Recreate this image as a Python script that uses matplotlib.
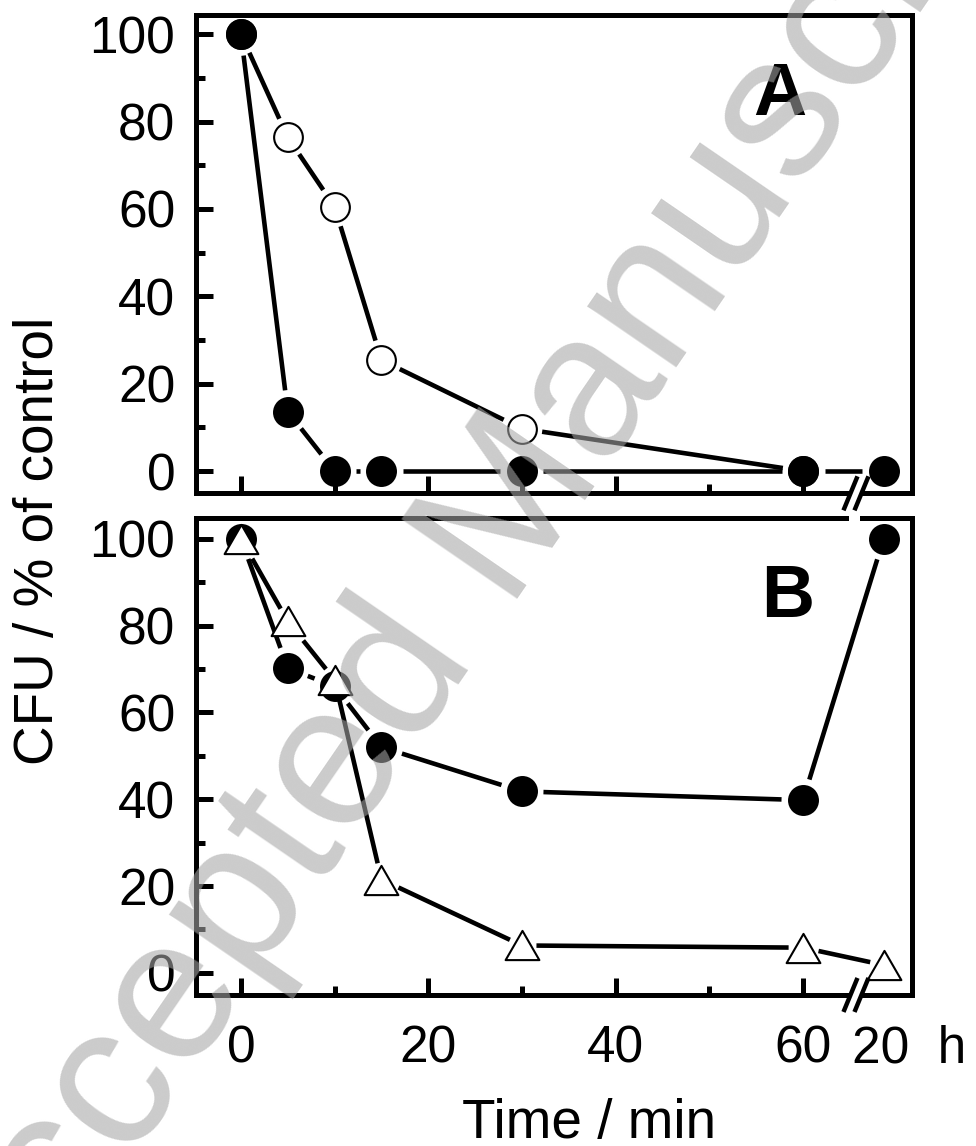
import numpy as np
import matplotlib
matplotlib.use('Agg')
import matplotlib.pyplot as plt
from matplotlib.lines import Line2D
from matplotlib.path import Path
from matplotlib.patches import Polygon, Rectangle
from matplotlib.transforms import blended_transform_factory, ScaledTranslation

plt.rcParams['font.family'] = ['Liberation Sans', 'DejaVu Sans']

# sampling times (min); the last entry is the 20 h sample, placed behind the axis break
t = [0, 5, 10, 15, 30, 60, 68.6]

# panel A
a_filled = [100, 13.6, 0, 0, 0, 0, 0]
a_open = [100, 76.4, 60.5, 25.4, 9.7, 0]
# panel B
b_filled = [100, 70.2, 66, 52, 41.8, 39.8, 100]
b_tri = [100, 81, 67.5, 21.5, 6.3, 5.8, 1.8]

x_major = [0, 20, 40, 60]
x_minor = [10, 30, 50]
y_major = [0, 20, 40, 60, 80, 100]
y_minor = [10, 30, 50, 70, 90]

BREAK_X = 65.6
LABEL_20H_X = 65.2

DPI = 100
fig = plt.figure(figsize=(9.76, 11.46), dpi=DPI)
axA = fig.add_axes([0.2008, 0.5695, 0.7333, 0.4174])
axB = fig.add_axes([0.2008, 0.1318, 0.7333, 0.4162])

for ax, ytop in ((axA, 104.4), (axB, 104.8)):
    ax.set_xlim(-4.8, 71.6)
    ax.set_ylim(-5.1, ytop)
    ax.set_xticks(x_major)
    ax.set_xticks(x_minor, minor=True)
    ax.set_yticks(y_major)
    ax.set_yticks(y_minor, minor=True)
    ax.tick_params(which='both', direction='in', width=3.6, labelsize=37,
                   top=False, right=False)
    ax.tick_params(which='major', length=12.5)
    ax.tick_params(which='minor', length=6.5)
    ax.tick_params(axis='y', pad=15)
    ax.tick_params(axis='x', pad=21)
    for s in ax.spines.values():
        s.set_linewidth(3.6)
        s.set_capstyle('projecting')
axA.tick_params(axis='x', labelbottom=False)

# triangle: equilateral, centred on its bounding box
TRI = Path([(-1, -0.866), (1, -0.866), (0, 0.866), (-1, -0.866)], closed=True)
px = DPI / 72.0
styles = {
    'filled': dict(marker='o', ms=22.3, mfc='k', mec='k', mew=0),
    'open': dict(marker='o', ms=20.7, mfc='w', mec='k', mew=1.5),
    'tri': dict(marker=TRI, ms=24.3, mfc='w', mec='k', mew=1.5),
}


def gap(kind, u):
    # distance (pixels) from marker centre where the connecting line stops
    s = styles[kind]
    if kind == 'tri':
        a = s['ms'] * px / 2
        b = a * 0.866
        ts = []
        if u[1] < 0:
            ts.append(-b / u[1])
        for sgn in (1, -1):
            den = sgn * u[0] / a + u[1] / (2 * b)
            if den > 0:
                ts.append(0.5 / den)
        return min(ts) + 6
    return s['ms'] * px / 2 + 6


def draw_series(ax, x, y, kind, z):
    P = ax.transData.transform(np.column_stack([x, y]))
    inv = ax.transData.inverted()
    for p, q in zip(P[:-1], P[1:]):
        d = q - p
        L = np.hypot(*d)
        u = d / L
        g1, g2 = gap(kind, u), gap(kind, -u)
        if L - g1 - g2 <= 0:
            continue
        a = inv.transform(p + u * g1)
        b = inv.transform(q - u * g2)
        ax.plot([a[0], b[0]], [a[1], b[1]], color='k', lw=3.3,
                solid_capstyle='butt', zorder=z)
    ax.plot(x, y, ls='none', zorder=z + 0.5, clip_on=False, **styles[kind])


draw_series(axA, t[:len(a_open)], a_open, 'open', 3)
draw_series(axA, t, a_filled, 'filled', 4)
draw_series(axB, t, b_filled, 'filled', 3)
draw_series(axB, t, b_tri, 'tri', 4)

# "20 h" label behind the break
off = ScaledTranslation(0, -21 / 72, fig.dpi_scale_trans)
axB.text(LABEL_20H_X, 0, '20  h', fontsize=37, ha='left', va='top',
         transform=blended_transform_factory(axB.transData, axB.transAxes) + off)

# axis break marks
to_fig = fig.transFigure.inverted()
for ax in (axA, axB):
    bx, by = blended_transform_factory(ax.transData, ax.transAxes).transform((BREAK_X, 0))
    s1 = [(bx - 5 - 7, by - 17), (bx - 5 + 7, by + 17)]
    s2 = [(bx + 6 - 7, by - 17), (bx + 6 + 7, by + 17)]
    poly = to_fig.transform([s1[0], s1[1], s2[1], s2[0]])
    fig.add_artist(Polygon(poly, closed=True, fc='w', ec='none',
                           transform=fig.transFigure, zorder=5))
    for s in (s1, s2):
        f = to_fig.transform(s)
        fig.add_artist(Line2D(f[:, 0], f[:, 1], color='k', lw=3.2,
                              solid_capstyle='butt', transform=fig.transFigure, zorder=6))
bx, by = blended_transform_factory(axB.transData, axB.transAxes).transform((BREAK_X, 1))
r0 = to_fig.transform((bx - 6, by - 5))
r1 = to_fig.transform((bx + 5, by + 5))
fig.add_artist(Rectangle(r0, r1[0] - r0[0], r1[1] - r0[1], fc='w', ec='none',
                         transform=fig.transFigure, zorder=5))

H, W = 1146.0, 976.0
fig.text(780 / W, 1 - 115 / H, 'A', fontsize=53, fontweight='bold', ha='center', va='baseline')
fig.text(788 / W, 1 - 617 / H, 'B', fontsize=53, fontweight='bold', ha='center', va='baseline')
fig.text(53 / W, 1 - 541 / H, 'CFU / % of control', fontsize=39.5, rotation=90,
         rotation_mode='anchor', ha='center', va='baseline')
fig.text(589 / W, 1 - 1138 / H, 'Time / min', fontsize=39.5, ha='center', va='baseline')

# watermark
fig.text(490 / W, 1 - 545 / H, 'Accepted Manuscript', fontsize=147, rotation=55.5,
         rotation_mode='anchor', ha='center', va='center',
         color=(0.65, 0.65, 0.65), alpha=0.58, zorder=20)

fig.savefig('out.png', dpi=DPI)
